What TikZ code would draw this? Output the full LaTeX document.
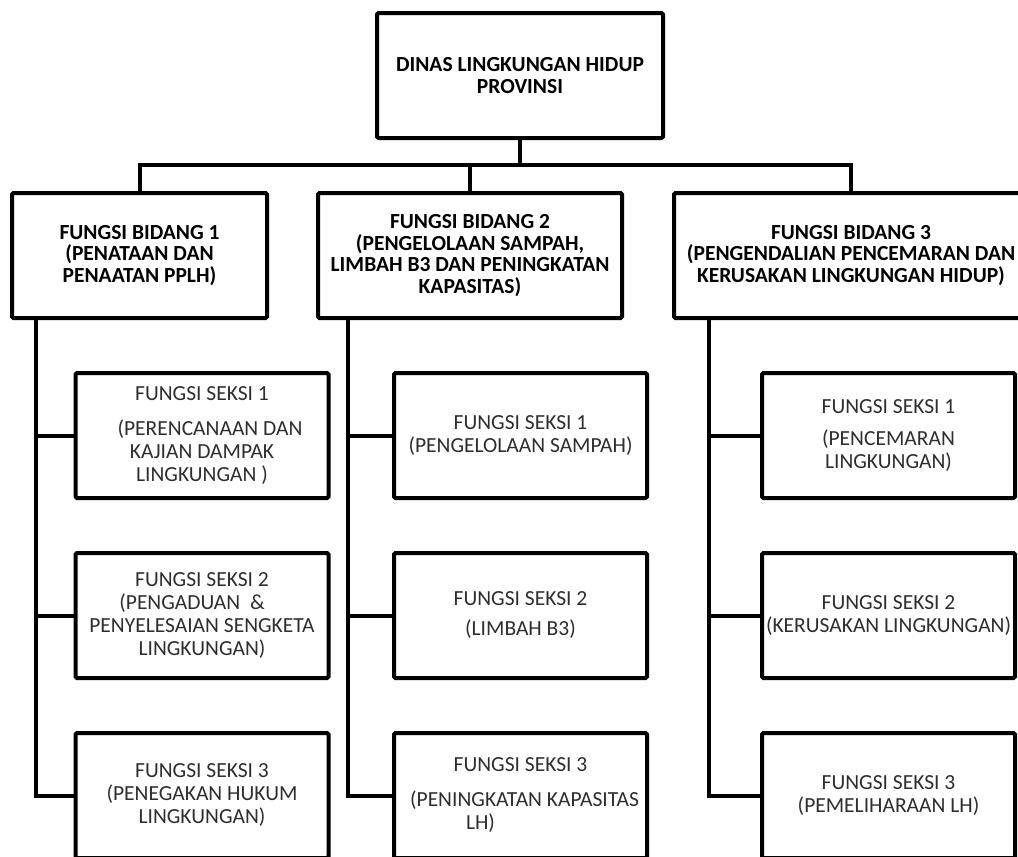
\documentclass[tikz,border=0pt]{standalone}
\usepackage{fontspec}
\setmainfont{Carlito}
\begin{document}
\begin{tikzpicture}[x=1pt,y=-1pt,
  box/.style={draw=black, line width=4pt, rectangle, inner sep=0pt,
    align=center, fill=white, rounded corners=1.5pt},
  headbox/.style={box, font=\fontsize{21.5}{21.5}\selectfont\bfseries, minimum height=125pt},
  secbox/.style={box, font=\fontsize{21.5}{23}\selectfont, text=black!82,
    minimum width=253pt, minimum height=125pt},
  link/.style={line width=4pt, draw=black}
]
\useasboundingbox (0,0) rectangle (1018,857);
\clip (0,0) rectangle (1018,857);

% head office and the three divisions
\node[headbox, minimum width=286pt] (top) at (520,75.5)
  {DINAS LINGKUNGAN HIDUP\\PROVINSI};
\node[headbox, minimum width=255pt] (b1) at (139.5,255.5)
  {FUNGSI BIDANG 1\\(PENATAAN DAN\\PENAATAN PPLH)};
\node[headbox, minimum width=304pt] (b2) at (470,255.5)
  {FUNGSI BIDANG 2\\(PENGELOLAAN SAMPAH,\\LIMBAH B3 DAN PENINGKATAN\\KAPASITAS)};
\node[headbox, minimum width=354pt] (b3) at (851,255.5)
  {FUNGSI BIDANG 3\\(PENGENDALIAN PENCEMARAN DAN\\KERUSAKAN LINGKUNGAN HIDUP)};

% sections of division 1
\node[secbox] (s11) at (202,435.5)
  {FUNGSI SEKSI 1\\[12pt]\rule{16pt}{0pt}(PERENCANAAN DAN\\KAJIAN DAMPAK\\LINGKUNGAN )};
\node[secbox] (s12) at (202,615.5)
  {FUNGSI SEKSI 2\\(PENGADUAN \ \&\rule{20pt}{0pt}\\PENYELESAIAN SENGKETA\\LINGKUNGAN)};
\node[secbox] (s13) at (202,795.5)
  {FUNGSI SEKSI 3\\(PENEGAKAN HUKUM\\LINGKUNGAN)};

% sections of division 2
\node[secbox] (s21) at (520.5,435.5)
  {FUNGSI SEKSI 1\\(PENGELOLAAN SAMPAH)};
\node[secbox] (s22) at (520.5,615.5)
  {FUNGSI SEKSI 2\\[7pt](LIMBAH B3)};
\node[secbox] (s23) at (520.5,795.5)
  {FUNGSI SEKSI 3\\[12pt]\rule{8pt}{0pt}(PENINGKATAN KAPASITAS\\LH)\rule{80pt}{0pt}};

% sections of division 3
\node[secbox] (s31) at (888.5,435.5)
  {FUNGSI SEKSI 1\\[9pt](PENCEMARAN\\LINGKUNGAN)};
\node[secbox] (s32) at (888.5,615.5)
  {FUNGSI SEKSI 2\\(KERUSAKAN LINGKUNGAN)};
\node[secbox] (s33) at (888.5,795.5)
  {FUNGSI SEKSI 3\\(PEMELIHARAAN LH)};

% bus from the head office to the divisions
\coordinate (bus) at (0,165);
\draw[link] (top.south) -- (top.south |- bus);
\draw[link] (b1.north) -- (b1.north |- bus) -- (b3.north |- bus) -- (b3.north);
\draw[link] (b2.north) -- (b2.north |- bus);

% trunks from each division down to its sections
\coordinate (t1) at ([xshift=26pt]b1.south west);
\coordinate (t2) at ([xshift=32pt]b2.south west);
\coordinate (t3) at ([xshift=37pt]b3.south west);

\draw[link] (t1) |- (s13.west);
\draw[link] (s11.west) -- (s11.west -| t1);
\draw[link] (s12.west) -- (s12.west -| t1);

\draw[link] (t2) |- (s23.west);
\draw[link] (s21.west) -- (s21.west -| t2);
\draw[link] (s22.west) -- (s22.west -| t2);

\draw[link] (t3) |- (s33.west);
\draw[link] (s31.west) -- (s31.west -| t3);
\draw[link] (s32.west) -- (s32.west -| t3);
\end{tikzpicture}
\end{document}
